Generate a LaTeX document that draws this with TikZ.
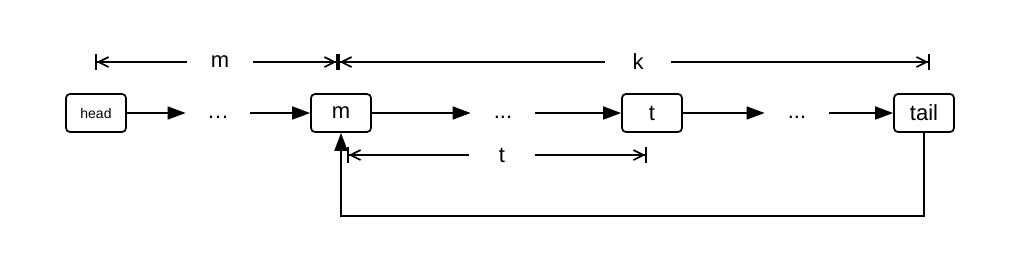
\documentclass[tikz,border=0pt]{standalone}
\usepackage{fontspec}
\setmainfont{Liberation Sans}
\usepackage{tikz}
\usetikzlibrary{arrows.meta, positioning}
\tikzset{
  box/.style={draw, rounded corners=2pt, line width=0.85pt, minimum width=30pt,
              minimum height=19pt, inner sep=0pt, font=\fontsize{11}{13}\selectfont},
  dots/.style={minimum width=32pt, inner sep=0pt, text height=5pt, text depth=0pt,
               font=\fontsize{11}{13}\selectfont},
  flow/.style={-{Triangle[length=9pt,width=6.5pt]}, line width=0.85pt},
  dimarr/.style={-{Straight Barb[length=5pt,width=5pt]Bar[width=8pt]}, line width=0.85pt},
  dimlab/.style={minimum width=32.5pt, inner sep=0pt, font=\fontsize{11}{13}\selectfont}
}
\begin{document}
\begin{tikzpicture}[x=0.5pt,y=-0.5pt]
  \useasboundingbox (0,0) rectangle (1024,263);
  % list
  \node[box,font=\fontsize{7}{8}\selectfont] (head) at (96,113) {head};
  \node[dots] (d1) at (218,113) {…};
  \node[box] (m) at (341,113) {m};
  \node[dots] (d2) at (503,113) {...};
  \node[box] (t) at (652,113) {t};
  \node[dots] (d3) at (797,113) {...};
  \node[box] (tail) at (924,113) {tail};
  \draw[flow] (head) -- (d1);
  \draw[flow] (d1) -- (m);
  \draw[flow] (m) -- (d2);
  \draw[flow] (d2) -- (t);
  \draw[flow] (t) -- (d3);
  \draw[flow] (d3) -- (tail);
  \draw[flow] (tail.south) -- ++(0,83) -| (m.south);
  % dimensions
  \coordinate (mL) at (95,62);
  \coordinate (mR) at (338,62);
  \coordinate (kR) at (930,62);
  \coordinate (tL) at (347,155);
  \coordinate (tR) at (647,155);
  \node[dimlab] (mlab) at (220,62) {m};
  \node[dimlab] (klab) at (638,62) {k};
  \node[dimlab] (tlab) at (502,155) {t};
  \draw[dimarr] (mlab) -- (mL);
  \draw[dimarr] (mlab) -- (mR);
  \draw[dimarr] (klab) -- (mR);
  \draw[dimarr] (klab) -- (kR);
  \draw[dimarr] (tlab) -- (tL);
  \draw[dimarr] (tlab) -- (tR);
\end{tikzpicture}
\end{document}
